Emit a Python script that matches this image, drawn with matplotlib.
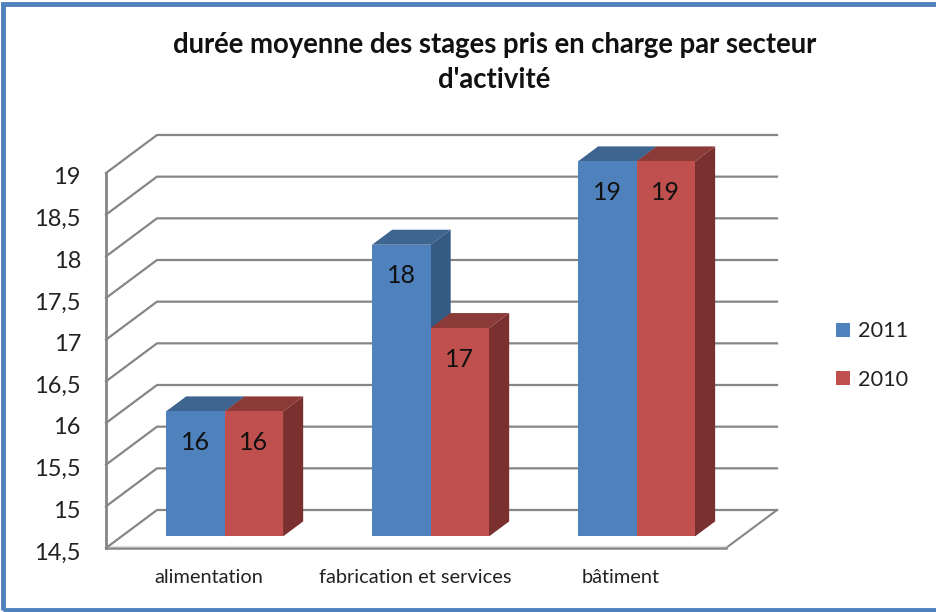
import matplotlib
matplotlib.use("Agg")
import matplotlib.pyplot as plt
from matplotlib.patches import Polygon, Rectangle
from matplotlib.transforms import ScaledTranslation

categories = ["alimentation", "fabrication et services", "bâtiment"]
values_2011 = [16, 18, 19]
values_2010 = [16, 17, 19]
y_ticks = [14.5, 15, 15.5, 16, 16.5, 17, 17.5, 18, 18.5, 19]
y_labels = ["14,5", "15", "15,5", "16", "16,5", "17", "17,5", "18", "18,5", "19"]

BLUE = ("#4F81BD", "#3E6490", "#355A84")
RED = ("#C0504D", "#8C3A38", "#7A302E")
GRID = "#868686"

# oblique projection: how far one full depth unit moves a point, in data units
DX = 0.2476
DY = 0.456
BAR_W = 0.284
D_FRONT = 0.305
D_BACK = 0.70
BASE = 14.5
TOP = 19


def proj(x, y, d):
    return (x + d * DX, y + d * DY)


plt.rcParams["font.family"] = ["Lato", "DejaVu Sans"]
fig = plt.figure(figsize=(9.37, 6.12), dpi=100)
ax = fig.add_axes([106 / 937, 1 - 548 / 612, 620 / 937, 375 / 612])
for s in ax.spines.values():
    s.set_visible(False)

# floor
x0, x1 = -0.5, 2.51
floor = [proj(x0, BASE, 0), proj(x0, BASE, 1), proj(x1, BASE, 1), proj(x1, BASE, 0)]
ax.add_patch(Polygon(floor, closed=True, fc="white", ec="none", clip_on=False, zorder=1))
ax.plot(*zip(proj(x1, BASE, 1), proj(x1, BASE, 0)), color=GRID, lw=1.5, clip_on=False, zorder=2)
ax.plot([x0, x1], [BASE, BASE], color=GRID, lw=1.8, clip_on=False, zorder=2)
ax.plot([x0, x1], [BASE + 0.03, BASE + 0.03], color="#E2E2E2", lw=1, clip_on=False, zorder=2)

# walls and grid lines
ax.plot([x0, x0], [BASE, TOP], color=GRID, lw=2, clip_on=False, zorder=2)
for v in y_ticks:
    pts = [proj(x0, v, 0), proj(x0, v, 1), proj(x1, v, 1)]
    ax.plot(*zip(*pts), color=GRID, lw=1.6, clip_on=False, zorder=2)


def draw_bar(x, val, cols, z, label=None):
    # front face goes through the normal bar call, top and side are added on it
    fx, fy = proj(x, BASE, D_FRONT)
    ftop = proj(x, val, D_FRONT)[1]
    ax.bar(fx, ftop - fy, BAR_W, bottom=fy, align="edge", color=cols[0],
           label=label, clip_on=False, zorder=z + 0.2)
    r = x + BAR_W
    top_face = [proj(x, val, D_FRONT), proj(x, val, D_BACK), proj(r, val, D_BACK), proj(r, val, D_FRONT)]
    side_face = [proj(r, val, D_FRONT), proj(r, val, D_BACK), proj(r, BASE, D_BACK), proj(r, BASE, D_FRONT)]
    ax.add_patch(Polygon(side_face, closed=True, fc=cols[2], ec="none", clip_on=False, zorder=z))
    ax.add_patch(Polygon(top_face, closed=True, fc=cols[1], ec="none", clip_on=False, zorder=z))
    ax.annotate(str(val), (fx + BAR_W / 2, ftop), xytext=(0, -22.5), textcoords="offset points",
                ha="center", va="center", fontsize=18, color="#111111", zorder=8,
                annotation_clip=False)


for i in range(len(categories)):
    draw_bar(i - BAR_W, values_2011[i], BLUE, 4, "2011" if i == 0 else None)
    # red above blue, its top hides the foot of the blue side
    draw_bar(i, values_2010[i], RED, 5, "2010" if i == 0 else None)

ax.set_xlim(x0, x1)
ax.set_ylim(BASE, TOP)
ax.set_xticks(range(len(categories)))
ax.set_xticklabels(categories, fontsize=14.4, color="#222222")
ax.set_yticks(y_ticks)
ax.set_yticklabels(y_labels, fontsize=17, color="#222222")
ax.tick_params(axis="x", length=0, pad=15)
ax.tick_params(axis="y", length=0, pad=18)
shift = ScaledTranslation(0, -3 / 100, fig.dpi_scale_trans)
for lab in ax.get_yticklabels():
    lab.set_transform(lab.get_transform() + shift)

fig.text(494.5 / 937, 1 - 44.5 / 612, "durée moyenne des stages pris en charge par secteur",
         ha="center", va="center", fontsize=19.8, fontweight="bold", color="#111111")
fig.text(494.5 / 937, 1 - 80 / 612, "d'activité",
         ha="center", va="center", fontsize=19.8, fontweight="bold", color="#111111")

ax.legend(loc="center left", bbox_to_anchor=(836 / 937, 1 - 355.5 / 612),
          bbox_transform=fig.transFigure, frameon=False, fontsize=15.6,
          handlelength=0.645, handleheight=0.645, handletextpad=0.37, labelspacing=1.3,
          labelcolor="#222222", borderpad=0, borderaxespad=0)

# blue frame round the whole picture
fig.add_artist(Rectangle((3.5 / 937, 1 - 609.5 / 612), 935 / 937, 606 / 612,
                         transform=fig.transFigure, fc="none", ec="#4F81BD", lw=3.5))

fig.savefig("out.png", dpi=100)
